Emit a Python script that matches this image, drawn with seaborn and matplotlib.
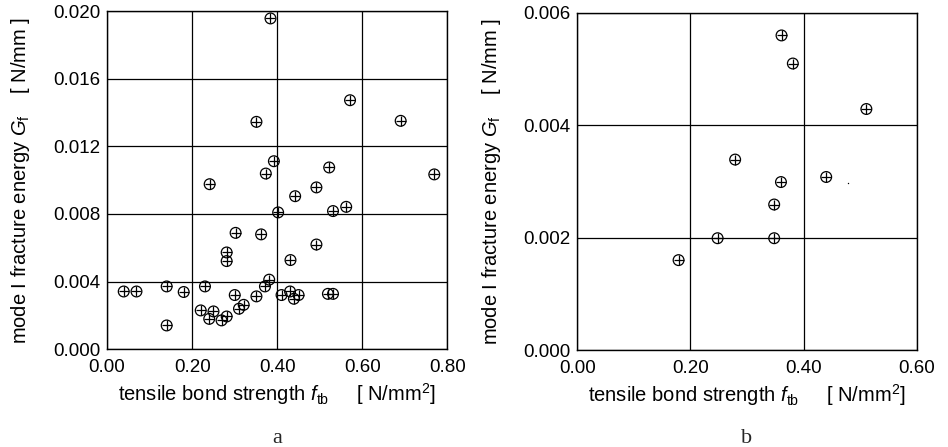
import matplotlib
matplotlib.use("Agg")
import matplotlib.pyplot as plt
import seaborn as sns
import pandas as pd

# ---- data: panel a ----
ftb_a = [0.384, 0.571, 0.351, 0.690, 0.392, 0.522, 0.373, 0.769, 0.241, 0.492,
         0.442, 0.402, 0.531, 0.562, 0.302, 0.362, 0.492, 0.281, 0.281, 0.431,
         0.381, 0.371, 0.039, 0.069, 0.140, 0.180, 0.230, 0.300, 0.351, 0.410,
         0.430, 0.439, 0.450, 0.519, 0.531, 0.140, 0.220, 0.240, 0.250, 0.269,
         0.281, 0.310, 0.321]
gf_a = [0.01957, 0.01473, 0.01345, 0.01351, 0.01112, 0.01075, 0.01039, 0.01034, 0.00976, 0.00957,
        0.00905, 0.00809, 0.00817, 0.00842, 0.00688, 0.00679, 0.00619, 0.00572, 0.00521, 0.00527,
        0.00411, 0.00371, 0.00341, 0.00341, 0.00371, 0.00338, 0.00371, 0.00320, 0.00312, 0.00320,
        0.00341, 0.00298, 0.00320, 0.00327, 0.00327, 0.00140, 0.00229, 0.00179, 0.00223, 0.00170,
        0.00193, 0.00239, 0.00262]

# ---- data: panel b ----
ftb_b = [0.361, 0.381, 0.511, 0.279, 0.440, 0.360, 0.348, 0.248, 0.348, 0.179]
gf_b = [0.00560, 0.00510, 0.00429, 0.00339, 0.00308, 0.00299, 0.00259, 0.00199, 0.00199, 0.00160]
stray_b_x = [0.479]
stray_b_y = [0.00297]

xticks_a = [0.0, 0.2, 0.4, 0.6, 0.8]
yticks_a = [0.0, 0.004, 0.008, 0.012, 0.016, 0.020]
xticks_b = [0.0, 0.2, 0.4, 0.6]
yticks_b = [0.0, 0.002, 0.004, 0.006]

sns.set_style("white")
plt.rcParams['font.family'] = ['Liberation Sans', 'DejaVu Sans']
plt.rcParams['mathtext.fontset'] = 'custom'
plt.rcParams['mathtext.rm'] = 'Liberation Sans'
plt.rcParams['mathtext.it'] = 'Liberation Sans:italic'
plt.rcParams['mathtext.bf'] = 'Liberation Sans:bold'

fig = plt.figure(figsize=(9.48, 4.47), dpi=100)
ax1 = fig.add_axes([0.113, 0.219, 0.359, 0.756])
ax2 = fig.add_axes([0.609, 0.217, 0.358, 0.754])

df_a = pd.DataFrame({"x": ftb_a, "y": gf_a})
df_b = pd.DataFrame({"x": ftb_b, "y": gf_b})

ylab = "mode I fracture energy $G_{\\mathrm{f}}$    [ N/mm ]"
xlab = "tensile bond strength $f_{\\mathrm{tb}}$     [ N/mm$^{2}$]"

def style(ax, df, xt, yt, xfmt, yfmt, letter):
    sns.scatterplot(data=df, x="x", y="y", ax=ax, marker="o", s=60,
                    facecolor="none", edgecolor="black", linewidth=0.9, zorder=3)
    sns.scatterplot(data=df, x="x", y="y", ax=ax, marker="+", s=60,
                    color="black", linewidth=0.9, zorder=3)
    ax.set_xlim(xt[0], xt[-1])
    ax.set_ylim(yt[0], yt[-1])
    ax.set_xticks(xt)
    ax.set_yticks(yt)
    ax.set_xticklabels([xfmt.format(v) for v in xt])
    ax.set_yticklabels([yfmt.format(v) for v in yt])
    ax.grid(True, color="black", linewidth=0.9)
    ax.set_axisbelow(True)
    for s in ax.spines.values():
        s.set_color("black")
        s.set_linewidth(1.0)
        s.set_visible(True)
    ax.tick_params(axis="both", length=0, labelsize=13.5, colors="black")
    ax.tick_params(axis="x", pad=7)
    ax.tick_params(axis="y", pad=5)
    ax.set_xlabel(xlab, fontsize=14.5, color="black")
    ax.set_ylabel(ylab, fontsize=14.5, color="black")
    ax.xaxis.set_label_coords(0.5, -0.095)
    ax.yaxis.set_label_coords(-0.22, 0.5)
    ax.text(0.5, -0.235, letter, transform=ax.transAxes, ha="center", va="top",
            fontsize=16, family="Liberation Serif")

style(ax1, df_a, xticks_a, yticks_a, "{:.2f}", "{:.3f}", "a")
style(ax2, df_b, xticks_b, yticks_b, "{:.2f}", "{:.3f}", "b")
sns.scatterplot(x=stray_b_x, y=stray_b_y, ax=ax2, marker=".", s=4, color="black",
                linewidth=0, zorder=3)
ax2.set_xlabel(xlab, fontsize=14.5, color="black")
ax2.set_ylabel(ylab, fontsize=14.5, color="black")

fig.savefig("out.png", dpi=100)
